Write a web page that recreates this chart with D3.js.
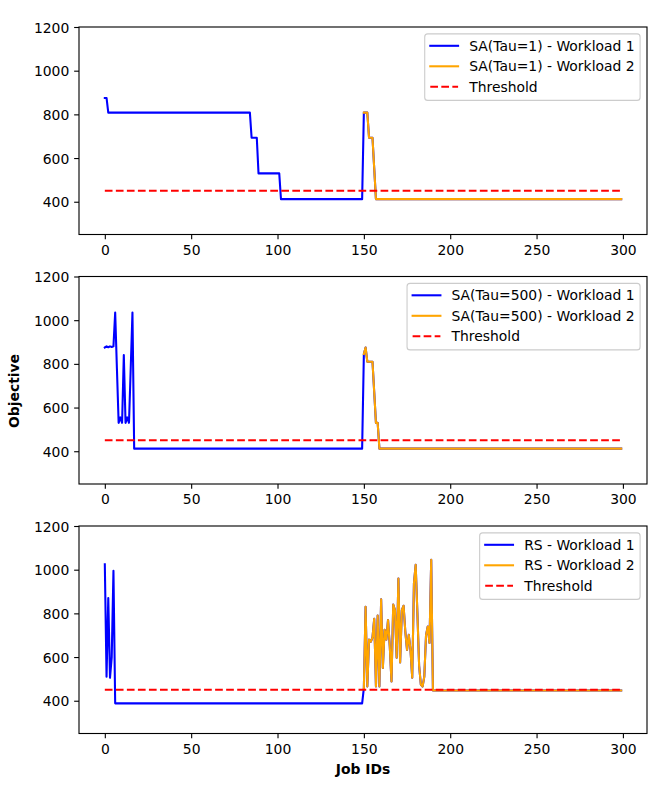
<!DOCTYPE html>
<html>
<head>
<meta charset="utf-8">
<script src="https://cdn.jsdelivr.net/npm/d3@7"></script>
<style>
  html, body { margin: 0; padding: 0; background: #fff; }
  svg { display: block; font-family: "DejaVu Sans", sans-serif; }
</style>
</head>
<body>
<svg id="chart" width="661" height="797"></svg>
<script>
// ---------- DATA ----------
// Runs of [firstJob, lastJob, objective]
const saTau1Workload1 = [[0,1,875],[2,84,808],[85,88,693],[89,101,530],[102,149,412]];
const saTau1Workload2 = [[150,152,808],[153,155,693],[156,156,552],[157,299,412]];

const saTau500Workload1 = [[0,0,875],[1,1,880],[2,2,876],[3,3,880],[4,4,877],[5,5,880],[6,6,1035],[7,7,780],
  [8,8,530],[9,9,555],[10,10,530],[11,11,840],[12,12,530],[13,13,555],[14,14,530],[15,15,780],[16,16,1035],[17,149,412]];
const saTau500Workload2 = [[150,150,845],[151,151,875],[152,155,810],[156,156,670],[157,158,530],[159,299,412]];

const rsWorkload1 = [[0,0,1025],[1,1,510],[2,2,870],[3,3,505],[4,4,600],[5,5,995],[6,149,388]];
const rsWorkload2Jobs150to189 = [458,830,465,680,670,690,775,465,790,465,865,550,725,680,770,650,488,840,815,597,
  960,575,815,835,717,633,702,633,505,938,1022,800,560,474,465,511,700,740,665,1045];
const rsWorkload2Tail = [[190,299,447]];

const threshold = 450;
const jobRange = [0, 299];
const xTicks = [0, 50, 100, 150, 200, 250, 300];
const yTicks = [400, 600, 800, 1000, 1200];
const yLimits = [250, 1200];

const panelLabels = [
  ["SA(Tau=1) - Workload 1", "SA(Tau=1) - Workload 2", "Threshold"],
  ["SA(Tau=500) - Workload 1", "SA(Tau=500) - Workload 2", "Threshold"],
  ["RS - Workload 1", "RS - Workload 2", "Threshold"]
];

// ---------- helpers ----------
function expandRuns(runs) {
  const out = [];
  runs.forEach(([a, b, v]) => { for (let j = a; j <= b; j++) out.push({ job: j, value: v }); });
  return out;
}
const rsW2 = rsWorkload2Jobs150to189.map((v, i) => ({ job: 150 + i, value: v })).concat(expandRuns(rsWorkload2Tail));

const panels = [
  { w1: expandRuns(saTau1Workload1), w2: expandRuns(saTau1Workload2) },
  { w1: expandRuns(saTau500Workload1), w2: expandRuns(saTau500Workload2) },
  { w1: expandRuns(rsWorkload1), w2: rsW2 }
];

// ---------- layout ----------
const svg = d3.select("#chart");
const left = 79, width = 568, height = 207.5;
const tops = [27, 276.5, 526];
const fs = 13.9;
const lw = 2.08;
const colors = { w1: "#0000ff", w2: "#ffa500", th: "#ff0000" };

const x = d3.scaleLinear().domain([-14.95, 313.95]).range([left, left + width]);

panels.forEach((p, i) => {
  const top = tops[i];
  const y = d3.scaleLinear().domain(yLimits).range([top + height, top]);
  const g = svg.append("g");

  const clipId = "clip" + i;
  svg.append("clipPath").attr("id", clipId).append("rect")
    .attr("x", left).attr("y", top).attr("width", width).attr("height", height);

  const line = d3.line().x(d => x(d.job)).y(d => y(d.value));
  const plot = g.append("g").attr("clip-path", `url(#${clipId})`);

  // Workload 1 line (covers all jobs; second half follows workload 2)
  plot.append("path").datum(p.w1.concat(p.w2))
    .attr("d", line).attr("fill", "none").attr("stroke", colors.w1)
    .attr("stroke-width", lw).attr("stroke-linejoin", "round").attr("stroke-linecap", "square");
  plot.append("path").datum(p.w2)
    .attr("d", line).attr("fill", "none").attr("stroke", colors.w2)
    .attr("stroke-width", lw).attr("stroke-linejoin", "round").attr("stroke-linecap", "square");
  plot.append("path").datum(jobRange.map(j => ({ job: j, value: threshold })))
    .attr("d", line).attr("fill", "none").attr("stroke", colors.th)
    .attr("stroke-width", lw).attr("stroke-dasharray", "7.7,3.33");

  // axes
  const xAxis = d3.axisBottom(x).tickValues(xTicks).tickSize(4.86).tickPadding(4.86).tickFormat(d3.format("d"));
  const yAxis = d3.axisLeft(y).tickValues(yTicks).tickSize(4.86).tickPadding(4.86).tickFormat(d3.format("d"));
  const gx = g.append("g").attr("transform", `translate(0,${top + height})`).call(xAxis);
  const gy = g.append("g").attr("transform", `translate(${left},0)`).call(yAxis);
  [gx, gy].forEach(a => {
    a.select(".domain").remove();
    a.selectAll(".tick line").attr("stroke", "#000").attr("stroke-width", 1.11);
    a.selectAll(".tick text").attr("fill", "#000").style("font-size", fs + "px").style("font-family", "DejaVu Sans");
  });
  gx.selectAll(".tick text").attr("dy", "0.74em");
  gy.selectAll(".tick text").attr("dy", "0.36em");

  // frame
  g.append("rect").attr("x", left).attr("y", top).attr("width", width).attr("height", height)
    .attr("fill", "none").attr("stroke", "#000").attr("stroke-width", 1.11);

  // legend
  const lg = g.append("g");
  const boxRight = left + width - 6.9;
  const boxTop = top + 6.9;
  const texts = panelLabels[i].map((t, k) => lg.append("text").text(t)
    .attr("y", boxTop + 11.9 + k * 20.5 + 4.8).style("font-size", fs + "px").attr("fill", "#000"));
  const maxW = d3.max(texts, t => t.node().getComputedTextLength());
  const boxW = 5.56 + 27.8 + 11.1 + maxW + 5.56;
  const boxLeft = boxRight - boxW;
  lg.insert("rect", "text").attr("x", boxLeft).attr("y", boxTop).attr("width", boxW).attr("height", 66.5)
    .attr("rx", 3).attr("fill", "#fff").attr("fill-opacity", 0.8)
    .attr("stroke", "#cccccc").attr("stroke-width", 1.1);
  texts.forEach(t => t.attr("x", boxLeft + 44.5));
  const handleColors = [colors.w1, colors.w2, colors.th];
  handleColors.forEach((c, k) => {
    const yy = boxTop + 11.9 + k * 20.5;
    const h = lg.append("line").attr("x1", boxLeft + 5.56).attr("x2", boxLeft + 5.56 + 27.8)
      .attr("y1", yy).attr("y2", yy).attr("stroke", c).attr("stroke-width", lw);
    if (k === 2) h.attr("stroke-dasharray", "7.7,3.33");
    else h.attr("stroke-linecap", "square");
  });
});

// axis titles
svg.append("text").attr("x", left + width / 2).attr("y", 774).attr("text-anchor", "middle")
  .style("font-size", fs + "px").style("font-weight", "bold").text("Job IDs");
svg.append("text").attr("transform", "translate(19,391) rotate(-90)").attr("text-anchor", "middle")
  .style("font-size", fs + "px").style("font-weight", "bold").text("Objective");
</script>
</body>
</html>
